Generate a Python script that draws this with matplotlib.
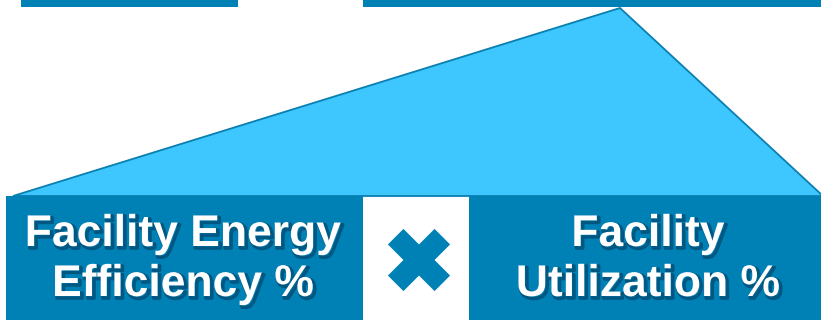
import matplotlib
matplotlib.use("Agg")
import matplotlib.pyplot as plt
from matplotlib.patches import Polygon, Rectangle
import matplotlib.patheffects as pe
import numpy as np

# Diagram content
left_label = ["Facility Energy", "Efficiency %"]
right_label = ["Facility", "Utilization %"]

W, H = 821, 320
box_color = "#0081B6"
tri_fill = "#3EC6FF"
tri_edge = "#0A7FB0"

fig = plt.figure(figsize=(W / 100, H / 100), dpi=100)
ax = fig.add_axes([0, 0, 1, 1])
ax.set_xlim(0, W)
ax.set_ylim(H, 0)
ax.axis("off")

# top boxes (partially visible)
ax.add_patch(Rectangle((21, -10), 217, 17, color=box_color, lw=0))
ax.add_patch(Rectangle((363, -10), 470, 17, color=box_color, lw=0))

# triangle
ax.add_patch(Polygon([(13, 196), (620, 8), (823, 196)], closed=True,
                     facecolor=tri_fill, edgecolor=tri_edge, lw=1.3))

# bottom boxes
ax.add_patch(Rectangle((6, 196), 357, 130, color=box_color, lw=0))
ax.add_patch(Rectangle((469, 196), 360, 130, color=box_color, lw=0))

# multiplication sign
cx, cy = 419, 260
L, T = 33, 11
for ang in (45, -45):
    a = np.deg2rad(ang)
    d = np.array([np.cos(a), np.sin(a)])
    n = np.array([-d[1], d[0]])
    c = np.array([cx, cy])
    pts = [c + d * L + n * T, c - d * L + n * T, c - d * L - n * T, c + d * L - n * T]
    ax.add_patch(Polygon(pts, closed=True, color=box_color, lw=0))

font = "Liberation Sans"
shadow = [pe.SimpleLineShadow(offset=(1.5, -1.5), shadow_color="#00304f", alpha=0.5, linewidth=2.5), pe.Normal()]

for y, s in zip([246, 296], left_label):
    t = ax.text(183, y, s, ha="center", va="baseline", color="white",
                fontsize=32, fontweight="bold", family=font)
    t.set_path_effects(shadow)
for y, s in zip([246, 296], right_label):
    t = ax.text(648, y, s, ha="center", va="baseline", color="white",
                fontsize=32, fontweight="bold", family=font)
    t.set_path_effects(shadow)

fig.savefig("out.png", dpi=100)
